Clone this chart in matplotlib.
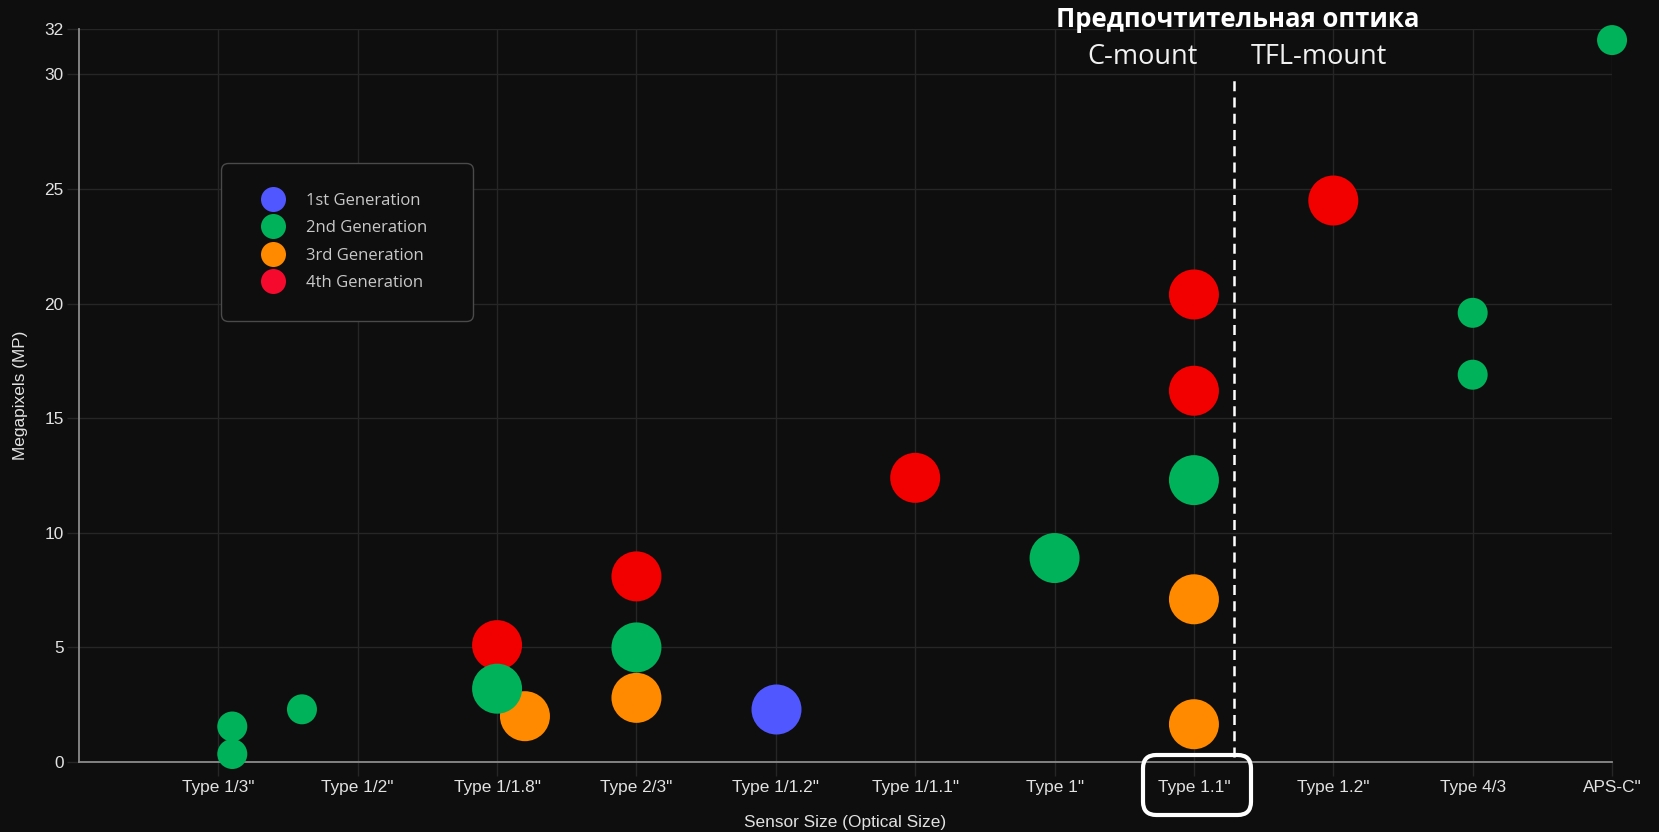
import matplotlib
matplotlib.use("Agg")
import matplotlib.pyplot as plt
from matplotlib.lines import Line2D
from matplotlib.patches import FancyBboxPatch

# категории по оси X
sensor_labels = ['Type 1/3"', 'Type 1/2"', 'Type 1/1.8"', 'Type 2/3"', 'Type 1/1.2"',
                 'Type 1/1.1"', 'Type 1"', 'Type 1.1"', 'Type 1.2"', 'Type 4/3', 'APS-C"']
y_ticks = [0, 5, 10, 15, 20, 25, 30, 32]

gen_names = ["1st Generation", "2nd Generation", "3rd Generation", "4th Generation"]
gen_colors = ["#5157FF", "#00B25A", "#FF8A00", "#F20000"]
legend_colors = ["#5157FF", "#00B25A", "#FF8A00", "#F50A2E"]

# позиция по оси (1 = Type 1/3"), мегапиксели, радиус пузырька (px)
gen1_x = [5]
gen1_mp = [2.3]
gen1_r = [25]

gen2_x = [1.1, 1.1, 1.6, 3, 4, 7, 8, 10, 10, 11]
gen2_mp = [1.55, 0.35, 2.3, 3.2, 5.0, 8.9, 12.3, 19.6, 16.9, 31.5]
gen2_r = [15, 15, 15, 25, 25, 25, 25, 15, 15, 15]

gen3_x = [3.2, 4, 8, 8]
gen3_mp = [2.0, 2.8, 7.1, 1.65]
gen3_r = [25, 25, 25, 25]

gen4_x = [3, 4, 6, 8, 8, 9]
gen4_mp = [5.1, 8.1, 12.4, 20.4, 16.2, 24.5]
gen4_r = [25, 25, 25, 25, 25, 25]

divider_x = 8.29  # граница C-mount / TFL-mount

DPI = 100
BG = "#0E0E0E"
GRID = "#262626"


def px_to_s(radii):
    # радиус в пикселях -> площадь маркера в pt^2
    return [(2 * r * 72 / DPI) ** 2 for r in radii]


def main():
    fig = plt.figure(figsize=(16.59, 8.32), dpi=DPI, facecolor=BG)
    ax = fig.add_axes([0.0476, 0.0841, 0.9241, 0.8815])
    ax.set_facecolor(BG)

    series = [(gen1_x, gen1_mp, gen1_r), (gen2_x, gen2_mp, gen2_r),
              (gen3_x, gen3_mp, gen3_r), (gen4_x, gen4_mp, gen4_r)]
    for i, (xs, ys, rs) in enumerate(series):
        # первый набор рисуется поверх остальных, как в Chart.js
        ax.scatter(xs, ys, s=px_to_s(rs), color=gen_colors[i], linewidths=0,
                   zorder=10 - i, clip_on=False)

    ax.set_xlim(0, 11)
    ax.set_ylim(0, 32)
    ax.set_xticks(range(1, 12))
    ax.set_xticklabels(sensor_labels)
    ax.set_yticks(y_ticks)

    ax.grid(True, color=GRID, linewidth=1)
    ax.set_axisbelow(True)
    for side in ["top", "right"]:
        ax.spines[side].set_visible(False)
    for side in ["left", "bottom"]:
        ax.spines[side].set_color("#8C8C8C")
        ax.spines[side].set_linewidth(1.3)

    ax.tick_params(axis="both", colors=GRID, width=1, labelcolor="#E2E2E2",
                   labelsize=12.4)
    ax.tick_params(axis="y", length=9, pad=2)
    ax.tick_params(axis="x", length=10, pad=3)
    for lab in ax.get_xticklabels() + ax.get_yticklabels():
        lab.set_fontfamily("Liberation Sans")

    ax.set_xlabel("Sensor Size (Optical Size)", color="#E2E2E2", fontsize=12.4,
                  fontfamily="Liberation Sans", labelpad=14)
    ax.set_ylabel("Megapixels (MP)", color="#E2E2E2", fontsize=12.4,
                  fontfamily="Liberation Sans", labelpad=12)

    # легенда
    handles = [Line2D([], [], marker="o", linestyle="none", markersize=18,
                      markerfacecolor=c, markeredgewidth=0) for c in legend_colors]
    leg = ax.legend(handles, gen_names, loc="upper left",
                    bbox_to_anchor=(0.0926, 0.617, 0.1644, 0.2), mode="expand",
                    prop={"family": "Open Sans", "size": 12}, labelcolor="#C8C8C8",
                    frameon=True, facecolor=BG, edgecolor="#4A4A4A", framealpha=1,
                    borderpad=1.8, labelspacing=0.68, handlelength=2.7,
                    handletextpad=0.6, borderaxespad=0)
    leg.get_frame().set_boxstyle("round,pad=0,rounding_size=0.4")
    leg.get_frame().set_linewidth(1)
    leg.set_zorder(20)

    # разделитель C-mount / TFL-mount
    ax.plot([divider_x, divider_x], [0.2, 29.8], color="white", linewidth=1.8,
            linestyle=(0, (4, 2.5)), zorder=15)

    fig.text(0.746, 0.976, "Предпочтительная оптика", color="white", fontsize=18.5,
             fontweight="bold", fontfamily="Open Sans", ha="center", va="center")
    fig.text(0.689, 0.931, "C-mount", color="#F2F2F2", fontsize=19.5,
             fontfamily="Open Sans", ha="center", va="center")
    fig.text(0.795, 0.931, "TFL-mount", color="#F2F2F2", fontsize=19.5,
             fontfamily="Open Sans", ha="center", va="center")

    # рамка вокруг Type 1.1"
    box = FancyBboxPatch((1143 / 1659, 1 - 815 / 832), 108 / 1659, 60 / 832,
                         boxstyle="round,pad=0,rounding_size=0.008",
                         transform=fig.transFigure, fill=False,
                         edgecolor="white", linewidth=3, mutation_aspect=1659 / 832)
    fig.patches.append(box)

    fig.savefig("out.png", dpi=DPI, facecolor=BG)


if __name__ == "__main__":
    main()
